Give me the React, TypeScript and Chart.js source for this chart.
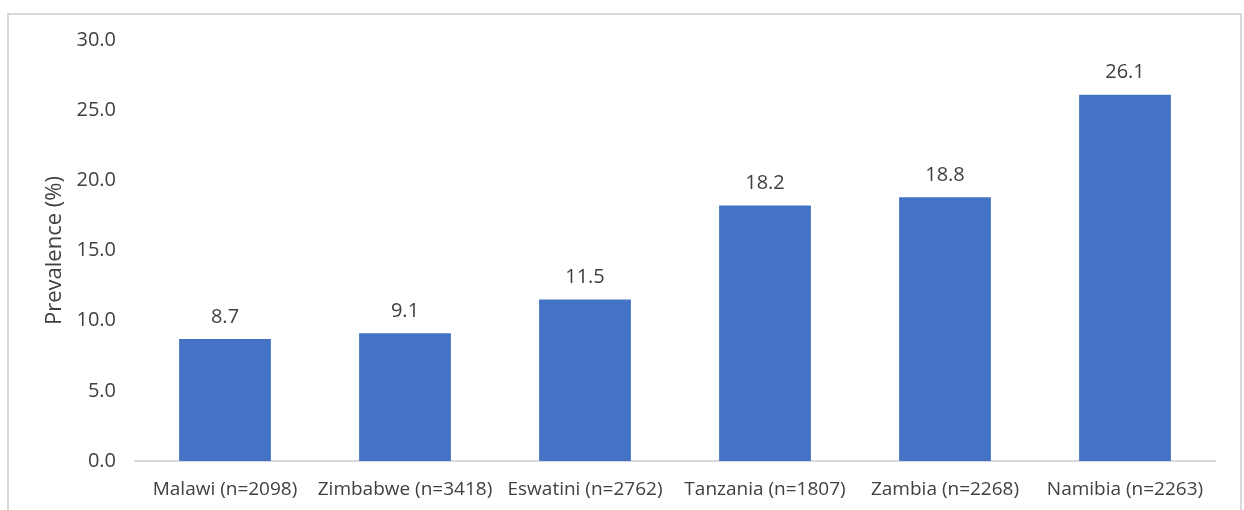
import React, { useEffect, useRef } from "react";
import { Chart, registerables } from "chart.js";

Chart.register(...registerables);

const categories = [
  "Malawi (n=2098)",
  "Zimbabwe (n=3418)",
  "Eswatini (n=2762)",
  "Tanzania (n=1807)",
  "Zambia (n=2268)",
  "Namibia (n=2263)",
];
const prevalence = [8.7, 9.1, 11.5, 18.2, 18.8, 26.1];
const yTicks = [0, 5, 10, 15, 20, 25, 30];

const W = 1244;
const H = 510;
const FONT = "'Open Sans', 'Noto Sans', sans-serif";
const TEXT = "#404040";

// Light frame around the chart (open at the bottom edge)
const framePlugin = {
  id: "frame",
  beforeDraw(chart: any) {
    const ctx = chart.ctx;
    ctx.save();
    ctx.fillStyle = "#ffffff";
    ctx.fillRect(0, 0, W, H);
    ctx.strokeStyle = "#d9d9d9";
    ctx.lineWidth = 2;
    ctx.strokeRect(8, 14, 1233, H + 20);
    ctx.restore();
  },
};

// Value labels above each bar
const valueLabels = {
  id: "valueLabels",
  afterDatasetsDraw(chart: any) {
    const ctx = chart.ctx;
    const meta = chart.getDatasetMeta(0);
    ctx.save();
    ctx.font = `20px ${FONT}`;
    ctx.fillStyle = TEXT;
    ctx.textAlign = "center";
    ctx.textBaseline = "middle";
    meta.data.forEach((bar: any, i: number) => {
      ctx.fillText(prevalence[i].toFixed(1), bar.x, bar.y - 22);
    });
    ctx.restore();
  },
};

export default function App() {
  const ref = useRef<HTMLCanvasElement>(null);

  useEffect(() => {
    if (!ref.current) return;
    const chart = new Chart(ref.current, {
      type: "bar",
      data: {
        labels: categories,
        datasets: [
          {
            data: prevalence,
            backgroundColor: "#4472C4",
            borderWidth: 0,
            categoryPercentage: 1,
            barPercentage: 0.51,
          },
        ],
      },
      options: {
        responsive: false,
        animation: false,
        devicePixelRatio: 1,
        layout: { padding: { left: 0, top: 40, right: 29, bottom: 0 } },
        plugins: {
          legend: { display: false },
          tooltip: { enabled: false },
        },
        scales: {
          x: {
            grid: { display: false, drawTicks: false },
            border: { display: true, color: "#d9d9d9", width: 2 },
            ticks: {
              color: TEXT,
              font: { family: FONT, size: 19 },
              padding: 17,
              maxRotation: 0,
              autoSkip: false,
            },
            afterFit(scale: any) {
              scale.height = H - 461;
            },
          },
          y: {
            min: 0,
            max: 30,
            afterBuildTicks(scale: any) {
              scale.ticks = yTicks.map((v) => ({ value: v }));
            },
            grid: { display: false, drawTicks: false },
            border: { display: false },
            ticks: {
              color: TEXT,
              font: { family: FONT, size: 20 },
              padding: 19,
              callback: (v: any) => Number(v).toFixed(1),
            },
            title: {
              display: true,
              text: "Prevalence (%)",
              color: TEXT,
              font: { family: FONT, size: 22 },
              padding: { top: 42, bottom: 0 },
            },
            afterFit(scale: any) {
              scale.width = 135;
            },
          },
        },
      },
      plugins: [framePlugin, valueLabels],
    });
    return () => chart.destroy();
  }, []);

  return (
    <canvas
      ref={ref}
      width={W}
      height={H}
      style={{ position: "fixed", left: 0, top: 0, width: W, height: H }}
    />
  );
}
